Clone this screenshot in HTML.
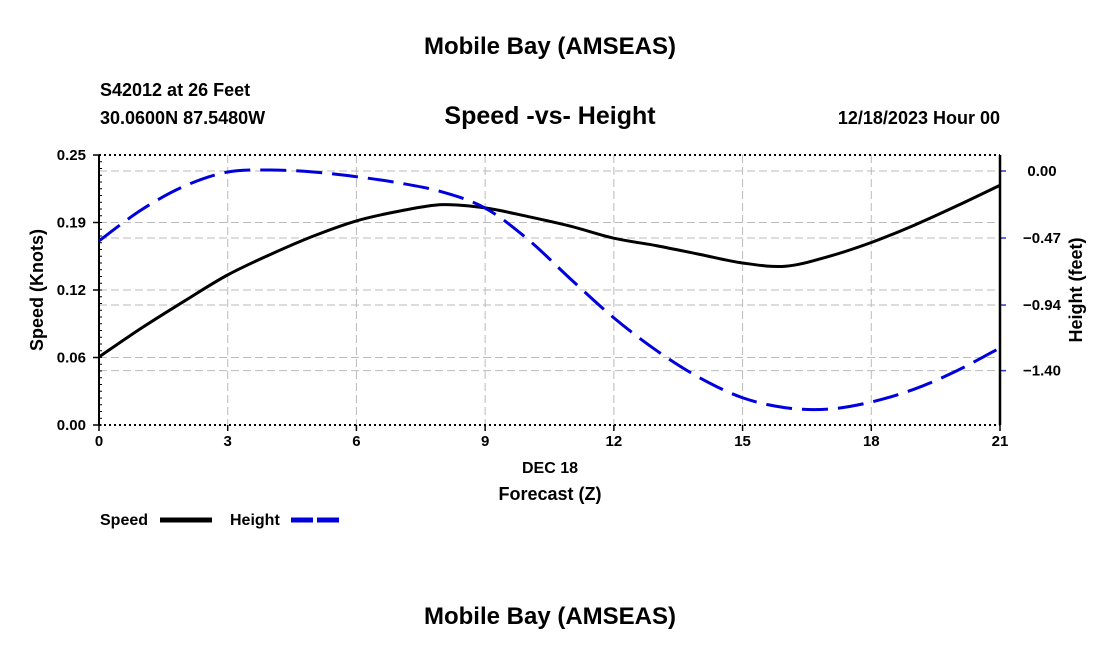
<!DOCTYPE html>
<html><head><meta charset="utf-8"><style>
body{margin:0;background:#fff;font-family:"Liberation Sans",Arial,sans-serif;}
svg text{font-family:"Liberation Sans",Arial,sans-serif;font-weight:bold;}
</style></head><body>
<svg id="chart" width="1100" height="650" xmlns="http://www.w3.org/2000/svg">
<text x="550" y="54" font-size="24" text-anchor="middle">Mobile Bay (AMSEAS)</text>
<text x="100" y="96" font-size="18">S42012 at 26 Feet</text>
<text x="100" y="124" font-size="18">30.0600N  87.5480W</text>
<text x="550" y="124" font-size="25" text-anchor="middle">Speed -vs- Height</text>
<text x="1000" y="124" font-size="18" text-anchor="end">12/18/2023 Hour 00</text>
<g id="grid"></g><g id="axes"></g><g id="series"></g>
<text x="550" y="473" font-size="16" text-anchor="middle">DEC 18</text>
<text x="550" y="500" font-size="18" text-anchor="middle">Forecast (Z)</text>
<text transform="translate(43,290) rotate(-90)" font-size="18" text-anchor="middle">Speed (Knots)</text>
<text transform="translate(1082,290) rotate(-90)" font-size="18" text-anchor="middle">Height (feet)</text>
<g>
<text x="100" y="525" font-size="16">Speed</text>
<line x1="160" y1="520" x2="212" y2="520" stroke="#000" stroke-width="5"/>
<text x="230" y="525" font-size="16">Height</text>
<line x1="291" y1="520" x2="343" y2="520" stroke="#0000dd" stroke-width="5" stroke-dasharray="22,4"/>
</g>
<text x="550" y="624" font-size="24" text-anchor="middle">Mobile Bay (AMSEAS)</text>
</svg>
<script>
const hours=[0,1,2,3,4,5,6,7,8,9,10,11,12,13,14,15,16,17,18,19,20,21];
const speed=[0.063,0.090,0.115,0.139,0.158,0.175,0.189,0.198,0.204,0.201,0.193,0.184,0.173,0.166,0.158,0.150,0.147,0.156,0.169,0.185,0.203,0.222];
const height=[-0.49,-0.27,-0.105,-0.007,0.007,-0.007,-0.04,-0.084,-0.147,-0.26,-0.48,-0.76,-1.03,-1.26,-1.45,-1.59,-1.66,-1.67,-1.62,-1.53,-1.40,-1.24];
const xTicks=[0,3,6,9,12,15,18,21];
const leftTicks=[0,0.0625,0.125,0.1875,0.25];
const leftLabels=["0.00","0.06","0.12","0.19","0.25"];
const rightTicks=[0,-0.47,-0.94,-1.40];
const rightLabels=["0.00","\u22120.47","\u22120.94","\u22121.40"];
const L=99,R=1000,T=155,B=425;
const x=h=>L+(h/21)*(R-L);
const yl=v=>B-(v/0.25)*(B-T);
const yr=v=>171-v*142.6;
const NS="http://www.w3.org/2000/svg";
function mk(p,tag,attrs){const e=document.createElementNS(NS,tag);for(const k in attrs)e.setAttribute(k,attrs[k]);document.getElementById(p).appendChild(e);return e;}
xTicks.forEach(h=>{
 if(h>0&&h<21){const g=mk('grid','line',{x1:x(h),x2:x(h),y1:T,y2:B,stroke:'#bbb','stroke-dasharray':'8,4'});
 
 }
 const t=mk('axes','text',{x:x(h),y:B+21,'font-size':15,'text-anchor':'middle'});t.textContent=h;
 
 
 mk('axes','line',{x1:x(h),x2:x(h),y1:B,y2:B+6,stroke:'#000','stroke-width':1.5});
});
leftTicks.forEach((v,i)=>{
 if(i>0&&i<4){const g=mk('grid','line',{x1:L,x2:R,y1:yl(v),y2:yl(v),stroke:'#bbb','stroke-dasharray':'8,4'});
 
 }
 mk('axes','line',{x1:L-6,x2:L,y1:yl(v),y2:yl(v),stroke:'#000','stroke-width':1.5});
 const t=mk('axes','text',{x:L-13,y:yl(v)+5,'font-size':15,'text-anchor':'end'});t.textContent=leftLabels[i];
 
 
});
for(let v=0;v<=0.25;v+=0.25/40){mk('axes','line',{x1:L,x2:L+3,y1:yl(v),y2:yl(v),stroke:'#000','stroke-width':1});}
rightTicks.forEach((v,i)=>{
 const g=mk('grid','line',{x1:L,x2:R,y1:yr(v),y2:yr(v),stroke:'#bbb','stroke-dasharray':'8,4'});
 
 
 mk('axes','line',{x1:R,x2:R+6,y1:yr(v),y2:yr(v),stroke:'#33c','stroke-width':1.5});
 const t=mk('axes','text',{x:R+42,y:yr(v)+5,'font-size':15,'text-anchor':'middle'});t.textContent=rightLabels[i];
 
 
});
mk('axes','line',{x1:L,x2:R,y1:T,y2:T,stroke:'#000','stroke-width':2,'stroke-dasharray':'2,3'});
mk('axes','line',{x1:L,x2:R,y1:B,y2:B,stroke:'#000','stroke-width':2,'stroke-dasharray':'2,3'});
mk('axes','line',{x1:L,x2:L,y1:T,y2:B,stroke:'#000','stroke-width':2});
mk('axes','line',{x1:R,x2:R,y1:T,y2:B,stroke:'#000','stroke-width':2.5});
function smooth(pts){let d='M'+pts[0][0]+','+pts[0][1];for(let i=0;i<pts.length-1;i++){const p0=pts[i-1]||pts[i],p1=pts[i],p2=pts[i+1],p3=pts[i+2]||p2;
 d+=' C'+(p1[0]+(p2[0]-p0[0])/6)+','+(p1[1]+(p2[1]-p0[1])/6)+' '+(p2[0]-(p3[0]-p1[0])/6)+','+(p2[1]-(p3[1]-p1[1])/6)+' '+p2[0]+','+p2[1];}return d;}
const sp=mk('series','path',{d:smooth(hours.map((h,i)=>[x(h),yl(speed[i])])),fill:'none',stroke:'#000','stroke-width':3});


const hp=mk('series','path',{d:smooth(hours.map((h,i)=>[x(h),yr(height[i])])),fill:'none',stroke:'#0000dd','stroke-width':3,'stroke-dasharray':'26,10'});


</script>
</body></html>
